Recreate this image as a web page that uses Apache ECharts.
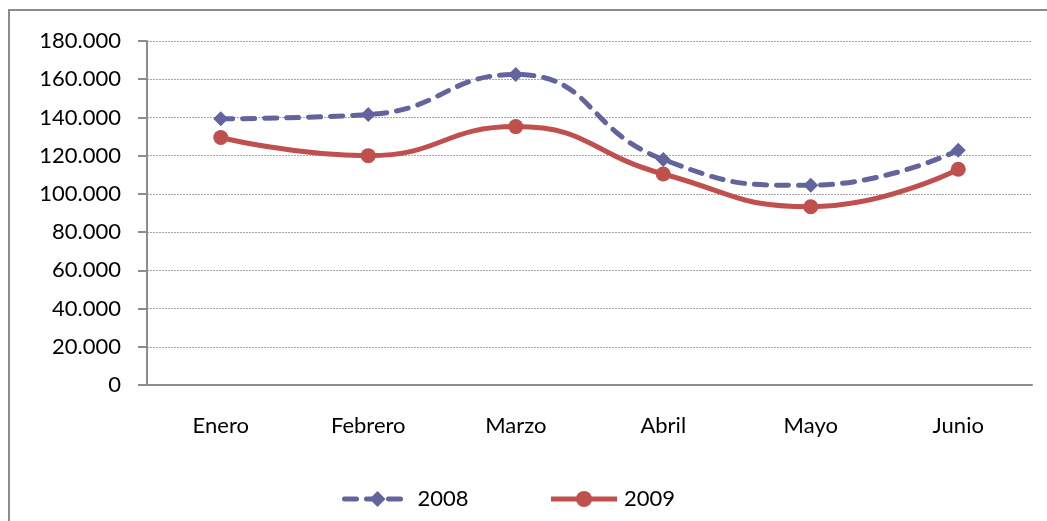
<!DOCTYPE html>
<html>
<head>
<meta charset="utf-8">
<script src="https://cdn.jsdelivr.net/npm/echarts@6/dist/echarts.min.js"></script>
<style>
  html, body { margin: 0; padding: 0; overflow: hidden; background: #fff; }
  #frame {
    position: absolute;
    left: 8px;
    top: 9px;
    width: 1100px;
    height: 600px;
    border: 2px solid #8c8c8c;
  }
  #chart { position: absolute; left: 0; top: 0; width: 1047px; height: 521px; }
</style>
</head>
<body>
<div id="frame"></div>
<div id="chart"></div>
<script>
// datos
const meses = ['Enero', 'Febrero', 'Marzo', 'Abril', 'Mayo', 'Junio']
const serie2008 = [139300, 141500, 162500, 118000, 104500, 122800]
const serie2009 = [129500, 120000, 135200, 110400, 93300, 112900]
const yMin = 0
const yMax = 180000
const yPaso = 20000

const fuente = 'Lato, "Open Sans", sans-serif'
const color2008 = '#62649E'
const color2009 = '#C0504D'
const guion2008 = [12, 10]

function miles(v) {
  // separador de miles con punto
  return v === 0 ? '0' : String(v).replace(/\B(?=(\d{3})+(?!\d))/g, '.')
}

const chart = echarts.init(document.getElementById('chart'))
const option = {
  animation: false,
  grid: {
    left: 147,
    right: 15,
    top: 41,
    bottom: 136
  },
  legend: {
    left: 337,
    top: 483,
    itemWidth: 66,
    itemHeight: 20,
    itemGap: 80,
    textStyle: {
      fontFamily: fuente,
      fontSize: 22,
      color: '#000',
      padding: [0, 0, 0, 2]
    },
    data: [
      {
        name: '2008',
        lineStyle: { width: 5, type: guion2008, cap: 'round', color: color2008 }
      },
      {
        name: '2009',
        lineStyle: { width: 5, color: color2009 }
      }
    ]
  },
  xAxis: {
    type: 'category',
    data: meses,
    boundaryGap: true,
    axisLine: { lineStyle: { color: '#8c8c8c', width: 2 } },
    axisTick: { length: 9, lineStyle: { color: '#8c8c8c', width: 2 } },
    axisLabel: {
      margin: 30,
      fontFamily: fuente,
      fontSize: 22,
      color: '#000'
    }
  },
  yAxis: {
    type: 'value',
    min: yMin,
    max: yMax,
    interval: yPaso,
    axisLine: { show: true, lineStyle: { color: '#8c8c8c', width: 2 } },
    axisTick: { show: true, length: 9, lineStyle: { color: '#8c8c8c', width: 2 } },
    axisLabel: {
      margin: 26,
      fontFamily: fuente,
      fontSize: 22,
      color: '#000',
      formatter: miles
    },
    splitLine: {
      lineStyle: { color: '#a6a6a6', type: [2, 1], width: 1 }
    }
  },
  series: [
    {
      name: '2008',
      type: 'line',
      data: serie2008,
      smooth: 0.5,
      symbol: 'diamond',
      symbolSize: 15,
      itemStyle: { color: color2008 },
      lineStyle: { color: color2008, width: 5, type: guion2008, cap: 'round' },
      z: 2
    },
    {
      name: '2009',
      type: 'line',
      data: serie2009,
      smooth: 0.5,
      symbol: 'circle',
      symbolSize: 15,
      itemStyle: { color: color2009 },
      lineStyle: { color: color2009, width: 5 },
      z: 3
    }
  ]
}
chart.setOption(option)
</script>
</body>
</html>
